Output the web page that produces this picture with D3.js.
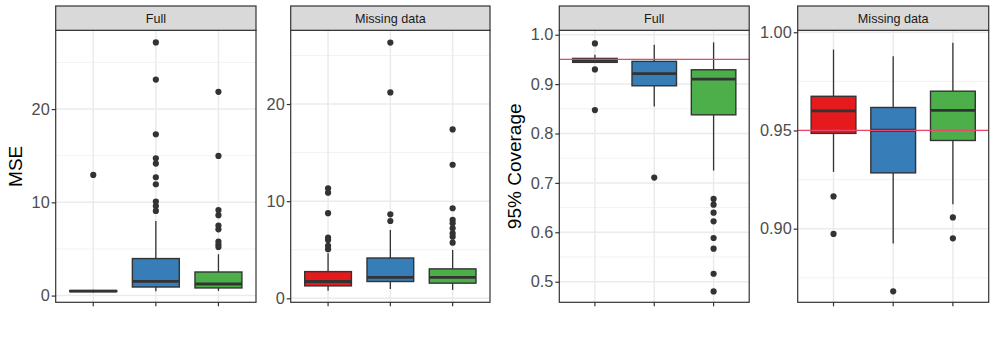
<!DOCTYPE html>
<html><head><meta charset="utf-8">
<script src="https://cdn.jsdelivr.net/npm/d3@7"></script>
<style>body{margin:0;background:#fff}svg{display:block}text{font-family:"Liberation Sans",Arial,Helvetica,sans-serif}</style>
</head><body><svg id="c" width="997" height="341"></svg>
<script>
// ---- data ----
const methods = ["A", "B", "C"];
const colors = ["#E41A1C", "#377EB8", "#4DAF4A"];
const facetLabels = ["Full", "Missing data", "Full", "Missing data"];
// box stats per panel per method: [lowerWhisker, q1, median, q3, upperWhisker]
const mseFullStats = [[0.36, 0.43, 0.48, 0.54, 0.62], [0.46, 0.92, 1.53, 3.97, 8.0], [0.5, 0.82, 1.24, 2.53, 4.43]];
const mseFullOut = [[12.94], [27.15, 23.17, 17.3, 14.73, 14.16, 12.69, 11.94, 10.08, 9.61, 9.08], [21.85, 14.98, 9.18, 8.62, 7.51, 7.11, 5.79, 5.47, 5.21]];
const mseMissStats = [[0.77, 1.28, 1.73, 2.75, 4.65], [0.95, 1.73, 2.16, 4.15, 7.04], [0.87, 1.56, 2.16, 3.03, 4.98]];
const mseMissOut = [[11.33, 10.87, 8.76, 6.25, 6.01, 5.4, 5.06], [26.33, 21.19, 8.65, 7.96], [17.39, 13.75, 9.27, 8.07, 7.73, 7.21, 6.7, 6.35, 5.73]];
const covFullStats = [[0.9432, 0.9440, 0.948, 0.952, 0.9595], [0.8547, 0.8966, 0.921, 0.946, 0.9797], [0.725, 0.8378, 0.910, 0.929, 0.9845]];
const covFullOut = [[0.9824, 0.9297, 0.8474], [0.7107], [0.6676, 0.656, 0.6398, 0.6223, 0.5885, 0.5668, 0.5161, 0.4804]];
const covMissStats = [[0.9289, 0.9485, 0.960, 0.9674, 0.9912], [0.8925, 0.9284, 0.9501, 0.9617, 0.9878], [0.9124, 0.9449, 0.9602, 0.970, 0.9946]];
const covMissOut = [[0.9164, 0.8973], [0.8681], [0.9057, 0.8951]];
const mseTicks = [0, 10, 20];
const mseMinor = [5, 15, 25];
const covFullTicks = [0.5, 0.6, 0.7, 0.8, 0.9, 1.0];
const covFullMinor = [0.55, 0.65, 0.75, 0.85, 0.95];
const covMissTicks = [0.90, 0.95, 1.00];
const covMissMinor = [0.875, 0.925, 0.975];
const targetCoverage = 0.95;
const yTitles = ["MSE", "95% Coverage"];

// ---- layout ----
const stripTop = 6, panelTop = 30.3, panelBottom = 302.3;
const panels = [
  {x0: 55.7, x1: 256, stats: mseFullStats, out: mseFullOut, domain: [-0.72, 28.45], ticks: mseTicks, minor: mseMinor, fmt: d3.format("d")},
  {x0: 290.7, x1: 490, stats: mseMissStats, out: mseMissOut, domain: [-0.41, 27.59], ticks: mseTicks, minor: mseMinor, fmt: d3.format("d")},
  {x0: 559.3, x1: 749.2, stats: covFullStats, out: covFullOut, domain: [0.4583, 1.0089], ticks: covFullTicks, minor: covFullMinor, fmt: d3.format(".1f"), hline: true},
  {x0: 797.7, x1: 988.7, stats: covMissStats, out: covMissOut, domain: [0.8625, 1.0010], ticks: covMissTicks, minor: covMissMinor, fmt: d3.format(".2f"), hline: true}
];

const svg = d3.select("#c");
panels.forEach((p, pi) => {
  const x = d3.scaleBand().domain(methods).range([p.x0, p.x1]);
  // ggplot discrete expansion: 0.6 units each side -> category centers
  const step = (p.x1 - p.x0) / 3.2;
  const xc = m => p.x0 + step * (0.6 + methods.indexOf(m));
  const y = d3.scaleLinear().domain(p.domain).range([panelBottom, panelTop]);
  const g = svg.append("g");
  g.append("rect").attr("x", p.x0).attr("y", panelTop).attr("width", p.x1 - p.x0).attr("height", panelBottom - panelTop).attr("fill", "#fff");
  g.selectAll(".mn").data(p.minor.filter(v => v > p.domain[0] && v < p.domain[1])).enter().append("line")
    .attr("x1", p.x0).attr("x2", p.x1).attr("y1", d => y(d)).attr("y2", d => y(d))
    .attr("stroke", "#F0F0F0").attr("stroke-width", 0.9);
  g.selectAll(".mj").data(p.ticks).enter().append("line")
    .attr("x1", p.x0).attr("x2", p.x1).attr("y1", d => y(d)).attr("y2", d => y(d))
    .attr("stroke", "#EBEBEB").attr("stroke-width", 1.5);
  g.selectAll(".vg").data(methods).enter().append("line")
    .attr("x1", d => xc(d)).attr("x2", d => xc(d)).attr("y1", panelTop).attr("y2", panelBottom)
    .attr("stroke", "#EBEBEB").attr("stroke-width", 1.5);
  const bw = step * 0.75;
  methods.forEach((m, i) => {
    const s = p.stats[i], cx = xc(m);
    g.append("line").attr("x1", cx).attr("x2", cx).attr("y1", y(s[0])).attr("y2", y(s[1])).attr("stroke", "#333").attr("stroke-width", 1.3);
    g.append("line").attr("x1", cx).attr("x2", cx).attr("y1", y(s[3])).attr("y2", y(s[4])).attr("stroke", "#333").attr("stroke-width", 1.3);
    g.append("rect").attr("x", cx - bw / 2).attr("width", bw).attr("y", y(s[3])).attr("height", Math.max(0.5, y(s[1]) - y(s[3])))
      .attr("fill", colors[i]).attr("stroke", "#333").attr("stroke-width", 1.4);
    g.append("line").attr("x1", cx - bw / 2).attr("x2", cx + bw / 2).attr("y1", y(s[2])).attr("y2", y(s[2])).attr("stroke", "#333").attr("stroke-width", 2.8);
    g.selectAll(null).data(p.out[i]).enter().append("circle")
      .attr("cx", cx).attr("cy", d => y(d)).attr("r", 3.1).attr("fill", "#333");
  });
  if (p.hline) {
    g.append("line").attr("x1", p.x0).attr("x2", p.x1).attr("y1", y(targetCoverage)).attr("y2", y(targetCoverage))
      .attr("stroke", "#E8476B").attr("stroke-width", 1.2);
  }
  g.append("rect").attr("x", p.x0).attr("y", panelTop).attr("width", p.x1 - p.x0).attr("height", panelBottom - panelTop)
    .attr("fill", "none").attr("stroke", "#333").attr("stroke-width", 1.2);
  g.append("rect").attr("x", p.x0).attr("y", stripTop).attr("width", p.x1 - p.x0).attr("height", panelTop - stripTop)
    .attr("fill", "#D9D9D9").attr("stroke", "#333").attr("stroke-width", 1.2);
  g.append("text").attr("x", (p.x0 + p.x1) / 2).attr("y", (stripTop + panelTop) / 2).attr("dy", "0.35em")
    .attr("text-anchor", "middle").attr("font-size", 12.6).attr("fill", "#1A1A1A").text(facetLabels[pi]);
  const ya = d3.axisLeft(y).tickValues(p.ticks).tickFormat(p.fmt).tickSize(4).tickPadding(2);
  const ag = svg.append("g").attr("transform", `translate(${p.x0},0)`).call(ya);
  ag.select(".domain").remove();
  ag.selectAll(".tick line").attr("stroke", "#333").attr("stroke-width", 1.2);
  ag.selectAll(".tick text").attr("font-size", 16.3).attr("fill", "#4D4D4D").attr("font-family", "Liberation Sans, Arial, sans-serif");
  const xa = d3.axisBottom(x).tickSize(4).tickFormat("");
  const xg = svg.append("g").attr("transform", `translate(0,${panelBottom})`).call(xa);
  xg.select(".domain").remove();
  xg.selectAll(".tick").attr("transform", d => `translate(${xc(d)},0)`);
  xg.selectAll(".tick line").attr("stroke", "#333").attr("stroke-width", 1.2);
});
[[15.5, yTitles[0]], [514, yTitles[1]]].forEach(([tx, t]) => {
  svg.append("text").attr("transform", `translate(${tx},${(panelTop + panelBottom) / 2}) rotate(-90)`)
    .attr("text-anchor", "middle").attr("dy", "0.35em").attr("font-size", 19).attr("fill", "#000").text(t);
});
</script></body></html>
